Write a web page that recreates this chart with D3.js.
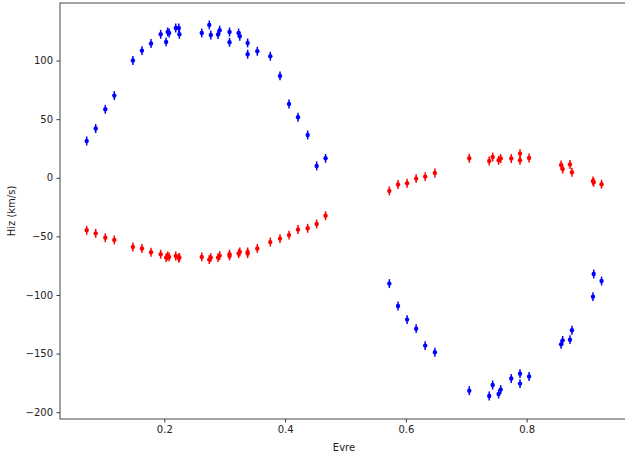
<!DOCTYPE html>
<html><head><meta charset="utf-8">
<script src="https://cdn.jsdelivr.net/npm/d3@7"></script>
<style>html,body{margin:0;padding:0;background:#fff;} svg{display:block;}</style>
</head><body>
<script>
const phase = [0.0715,0.0864,0.1023,0.1172,0.148,0.163,0.178,0.194,0.203,0.2056,0.208,0.219,0.224,0.225,0.262,0.2745,0.277,0.289,0.2917,0.308,0.308,0.323,0.325,0.338,0.338,0.354,0.3755,0.3916,0.4065,0.4214,0.4374,0.4523,0.467,
  0.5726,0.587,0.602,0.617,0.632,0.648,0.705,0.738,0.7437,0.7536,0.757,0.7745,0.789,0.789,0.804,0.857,0.8596,0.8717,0.875,0.9098,0.911,0.924];
const blueVel = [31.4,42.0,58.4,70.1,100,108.5,114.5,122.4,115.9,124.4,123.5,127.8,127.8,122.4,123.5,130.4,121.8,122.2,125.9,124.4,115.6,123.5,120.7,115.0,105.4,107.9,103.7,86.9,63.0,51.6,36.5,10.1,16.6,
  -90.3,-109.4,-121.0,-128.7,-143.2,-148.9,-181.6,-186.2,-176.8,-184.5,-180.7,-171.3,-167.1,-175.6,-169.6,-142.1,-138.7,-138.1,-130.1,-101.4,-82.1,-88.1];
const redVel = [-44.8,-47.4,-51.2,-53.0,-59.0,-60.3,-63.5,-65.2,-68.1,-66.7,-67.5,-66.7,-68.4,-68.0,-67.5,-69.8,-68.1,-68.1,-66.4,-66.7,-65.3,-64.7,-63.3,-64.7,-63.3,-60.3,-54.9,-51.9,-48.9,-44.2,-43.1,-39.4,-32.4,
  -11.2,-5.8,-4.7,-0.7,1.0,4.1,16.6,14.3,17.7,14.9,16.4,16.4,20.6,14.9,16.9,10.9,7.5,11.3,4.7,-2.7,-3.8,-5.5];
const velErr = 3.8;
const xTicks = [0.2,0.4,0.6,0.8];
const yTicks = [-200,-150,-100,-50,0,50,100];
const xLabel = "Evre";
const yLabel = "Hiz (km/s)";

(function () {
const W = 625, H = 457;
const mLeft = 60, mRight = 628, mTop = 3, mBottom = 419;
const svg = d3.select("body").append("svg").attr("width", W).attr("height", H);
svg.append("rect").attr("width", W).attr("height", H).attr("fill", "#fff");

const x = d3.scaleLinear().domain([0.0273, 0.9678]).range([mLeft, mRight]);
const y = d3.scaleLinear().domain([-205.8, 149.1]).range([mBottom, mTop]);

const fmtX = d => d3.format(".1f")(d);
const fmtY = d => (d < 0 ? "\u2212" + Math.abs(d) : String(d));

const xAxis = svg.append("g").attr("transform", `translate(0,${mBottom})`)
  .call(d3.axisBottom(x).tickValues(xTicks).tickFormat(fmtX).tickSize(3.5).tickPadding(3.5));
const yAxis = svg.append("g").attr("transform", `translate(${mLeft},0)`)
  .call(d3.axisLeft(y).tickValues(yTicks).tickFormat(fmtY).tickSize(3.5).tickPadding(3.5));
[xAxis, yAxis].forEach(g => {
  g.select(".domain").remove();
  g.selectAll("text").attr("font-family", "DejaVu Sans").attr("font-size", 10).attr("fill", "#222");
  g.selectAll("line").attr("stroke", "#222").attr("stroke-width", 0.9);
});

svg.append("rect").attr("x", mLeft).attr("y", mTop).attr("width", mRight - mLeft).attr("height", mBottom - mTop)
  .attr("fill", "none").attr("stroke", "#333").attr("stroke-width", 0.9);

const plot = svg.append("g");
function drawSeries(vals, color) {
  const g = plot.append("g");
  g.selectAll("line").data(phase).join("line")
    .attr("x1", d => x(d)).attr("x2", d => x(d))
    .attr("y1", (d, i) => y(vals[i] - velErr)).attr("y2", (d, i) => y(vals[i] + velErr))
    .attr("stroke", color).attr("stroke-width", 1.5);
  g.selectAll("circle").data(phase).join("circle")
    .attr("cx", d => x(d)).attr("cy", (d, i) => y(vals[i]))
    .attr("r", 2.2).attr("fill", color);
}
drawSeries(blueVel, "#0000ff");
drawSeries(redVel, "#ff0000");

svg.append("text").attr("x", (mLeft + mRight) / 2).attr("y", 451)
  .attr("text-anchor", "middle").attr("font-family", "DejaVu Sans").attr("font-size", 10).attr("fill", "#222")
  .text(xLabel);
svg.append("text").attr("transform", `translate(15,${(mTop + mBottom) / 2}) rotate(-90)`)
  .attr("text-anchor", "middle").attr("font-family", "DejaVu Sans").attr("font-size", 10).attr("fill", "#222")
  .text(yLabel);
})();
</script>
</body></html>
